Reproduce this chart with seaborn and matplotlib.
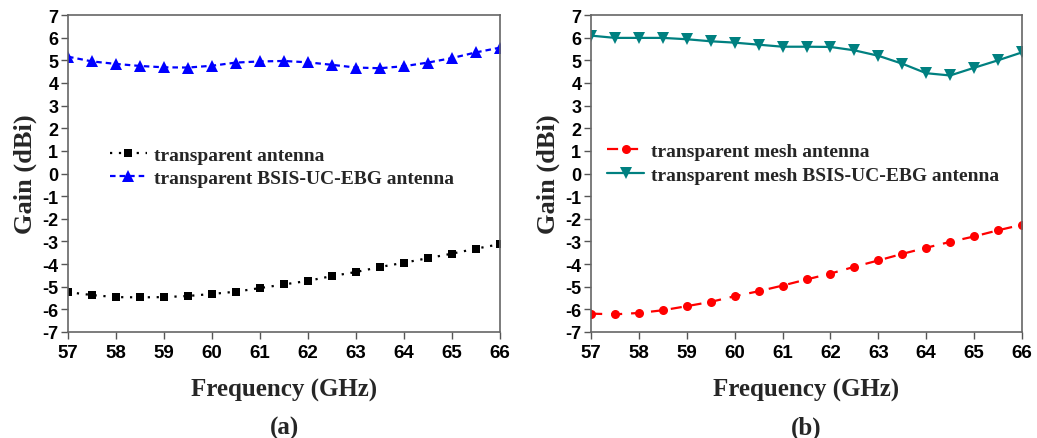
import matplotlib
matplotlib.use("Agg")
import matplotlib.pyplot as plt
import seaborn as sns
import numpy as np
import pandas as pd

# Frequency points (GHz)
freq = [57, 57.5, 58, 58.5, 59, 59.5, 60, 60.5, 61, 61.5, 62, 62.5,
        63, 63.5, 64, 64.5, 65, 65.5, 66]

# (a) gains in dBi
gain_transparent = [-5.24, -5.37, -5.46, -5.47, -5.46, -5.41, -5.32, -5.22, -5.06, -4.90,
                    -4.74, -4.53, -4.35, -4.13, -3.94, -3.74, -3.54, -3.32, -3.12]
gain_transparent_ebg = [5.16, 4.95, 4.84, 4.75, 4.69, 4.68, 4.76, 4.90, 4.95, 4.97,
                        4.91, 4.80, 4.68, 4.65, 4.74, 4.90, 5.10, 5.35, 5.56]

# (b) gains in dBi
gain_mesh = [-6.19, -6.22, -6.16, -6.04, -5.86, -5.67, -5.42, -5.20, -4.95, -4.68,
             -4.42, -4.12, -3.84, -3.55, -3.28, -3.02, -2.78, -2.51, -2.26]
gain_mesh_ebg = [6.09, 5.99, 5.99, 5.99, 5.93, 5.84, 5.78, 5.69, 5.60, 5.60,
                 5.59, 5.44, 5.20, 4.85, 4.43, 4.33, 4.67, 5.00, 5.35]

labels_a = ["transparent antenna", "transparent BSIS-UC-EBG antenna"]
labels_b = ["transparent mesh antenna", "transparent mesh BSIS-UC-EBG antenna"]

sns.set_style("ticks")
plt.rcParams['font.family'] = ['Liberation Sans', 'DejaVu Sans']
plt.rcParams['font.weight'] = 'bold'
plt.rcParams['axes.unicode_minus'] = False

serif_bold = {'family': 'Liberation Serif', 'weight': 'bold'}
legend_font = {'family': 'Liberation Serif', 'weight': 'bold', 'size': 14}

fig = plt.figure(figsize=(10.37, 4.39), dpi=100)
ax_a = fig.add_axes([0.0656, 0.2415, 0.4166, 0.722])
ax_b = fig.add_axes([0.5700, 0.2415, 0.4155, 0.722])

df_a = pd.DataFrame({'freq': freq, 'g1': gain_transparent, 'g2': gain_transparent_ebg})
df_b = pd.DataFrame({'freq': freq, 'g1': gain_mesh, 'g2': gain_mesh_ebg})

# panel (a)
sns.lineplot(data=df_a, x='freq', y='g1', ax=ax_a, color='black', marker='s',
             markersize=6, markeredgewidth=0, linewidth=1.6,
             linestyle=(0, (1, 3)), label=labels_a[0])
sns.lineplot(data=df_a, x='freq', y='g2', ax=ax_a, color='#0000ff', marker='^',
             markersize=8, markeredgewidth=0, linewidth=1.6,
             linestyle=(0, (2.5, 1.8)), label=labels_a[1])

# panel (b)
sns.lineplot(data=df_b, x='freq', y='g1', ax=ax_b, color='#ff0000', marker='o',
             markersize=6.5, markeredgewidth=0, linewidth=1.6,
             linestyle=(0, (5, 4)), label=labels_b[0])
sns.lineplot(data=df_b, x='freq', y='g2', ax=ax_b, color='#008080', marker='v',
             markersize=8, markeredgewidth=0, linewidth=1.6,
             linestyle='-', label=labels_b[1])

for ax, tag in [(ax_a, '(a)'), (ax_b, '(b)')]:
    ax.set_xlim(57, 66)
    ax.set_ylim(-7, 7)
    ax.set_xticks(np.arange(57, 67, 1))
    ax.set_yticks(np.arange(-7, 8, 1))
    ax.tick_params(axis='x', labelsize=13.5, direction='out', length=5, width=1,
                   colors='#555555', labelcolor='black')
    ax.tick_params(axis='y', labelsize=13, direction='out', length=5, width=1,
                   colors='#555555', labelcolor='black', pad=2)
    for lab in ax.get_xticklabels() + ax.get_yticklabels():
        lab.set_fontweight('bold')
    for s in ax.spines.values():
        s.set_visible(True)
        s.set_color('#666666')
        s.set_linewidth(1.2)
    ax.set_xlabel('Frequency (GHz)', fontdict=serif_bold, fontsize=18, labelpad=12)
    ax.set_ylabel('Gain (dBi)', fontdict=serif_bold, fontsize=19, labelpad=4)
    ax.text(0.5, -0.265, tag, transform=ax.transAxes, ha='center', va='top',
            fontsize=18, **serif_bold)

ax_a.legend(loc='center left', bbox_to_anchor=(0.097, 0.522), frameon=False,
            prop=legend_font, handlelength=1.9, handletextpad=0.35,
            labelspacing=0.3, borderaxespad=0, borderpad=0)
ax_b.legend(loc='center left', bbox_to_anchor=(0.037, 0.533), frameon=False,
            prop=legend_font, handlelength=1.9, handletextpad=0.35,
            labelspacing=0.3, borderaxespad=0, borderpad=0)

fig.savefig('out.png', dpi=100)
